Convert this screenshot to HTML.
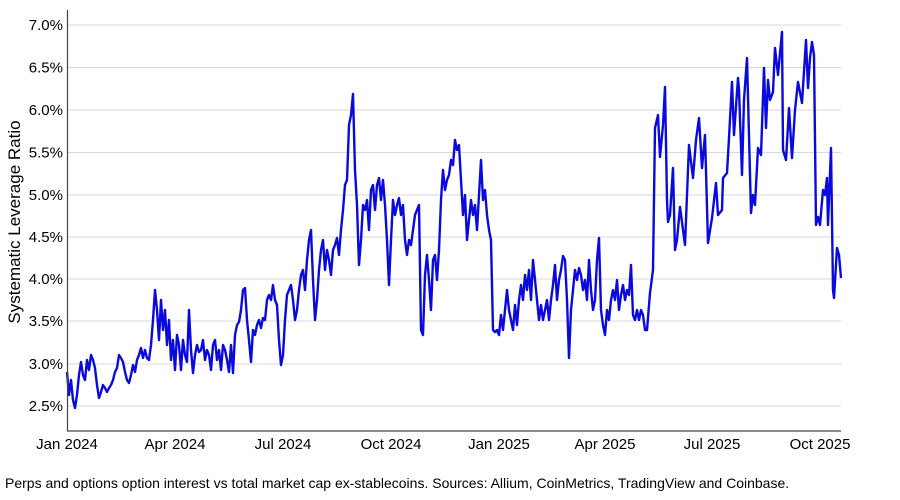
<!DOCTYPE html>
<html><head><meta charset="utf-8"><style>
html,body{margin:0;padding:0;background:#fff;}
svg{display:block;font-family:"Liberation Sans",Arial,sans-serif;}
</style></head><body>
<svg width="900" height="500" viewBox="0 0 900 500" xmlns="http://www.w3.org/2000/svg">
<g stroke="#dadada" stroke-width="1">
<line x1="68" x2="841" y1="25" y2="25"/><line x1="68" x2="841" y1="67.5" y2="67.5"/>
<line x1="68" x2="841" y1="110" y2="110"/><line x1="68" x2="841" y1="152.5" y2="152.5"/>
<line x1="68" x2="841" y1="195" y2="195"/><line x1="68" x2="841" y1="237" y2="237"/>
<line x1="68" x2="841" y1="279" y2="279"/><line x1="68" x2="841" y1="321" y2="321"/>
<line x1="68" x2="841" y1="364" y2="364"/><line x1="68" x2="841" y1="406" y2="406"/>
</g>
<g font-size="15" fill="#000" text-anchor="end">
<text x="63" y="30">7.0%</text><text x="63" y="72.5">6.5%</text><text x="63" y="115">6.0%</text>
<text x="63" y="157.5">5.5%</text><text x="63" y="200">5.0%</text><text x="63" y="242">4.5%</text>
<text x="63" y="284">4.0%</text><text x="63" y="326">3.5%</text><text x="63" y="369">3.0%</text>
<text x="63" y="411">2.5%</text>
</g>
<text transform="translate(20,222) rotate(-90)" font-size="17" text-anchor="middle">Systematic Leverage Ratio</text>
<g font-size="15" text-anchor="middle">
<text x="67" y="449">Jan 2024</text><text x="175" y="449">Apr 2024</text><text x="283" y="449">Jul 2024</text>
<text x="391" y="449">Oct 2024</text><text x="499" y="449">Jan 2025</text><text x="605" y="449">Apr 2025</text>
<text x="712" y="449">Jul 2025</text><text x="820" y="449">Oct 2025</text>
</g>
<text x="5" y="488" font-size="14">Perps and options option interest vs total market cap ex-stablecoins. Sources: Allium, CoinMetrics, TradingView and Coinbase.</text>
<polyline fill="none" stroke="#0a0adf" stroke-width="2.4" stroke-linejoin="round" points="67,372 69,395 71,380 73,400 75,408 77,395 79,375 81,362 83,375 85,380 87,360 89,370 91,355 93,360 95,368 97,385 99,398 101,392 103,385 105,388 107,392 109,388 111,385 113,380 115,372 117,368 119,355 121,358 123,362 125,372 127,380 129,383 131,375 133,365 135,372 137,360 139,355 141,348 143,358 145,350 147,358 149,360 151,345 153,320 155,290 157,310 159,340 161,300 163,330 165,310 167,345 169,320 171,360 173,340 175,370 177,335 179,345 181,370 183,340 185,355 187,362 189,310 191,350 193,373 195,355 197,345 199,352 201,350 203,340 205,360 207,350 209,355 211,370 213,345 215,340 217,360 219,350 221,370 223,345 225,350 227,360 229,372 231,345 233,373 235,335 237,325 239,322 241,310 243,290 245,288 247,320 249,340 251,362 253,330 255,335 257,325 259,320 261,328 263,318 265,320 267,300 269,295 271,300 273,285 275,300 277,305 279,340 281,365 283,355 285,320 287,295 289,290 291,285 293,300 295,320 297,310 299,290 301,275 303,270 305,290 307,260 309,240 311,230 313,280 315,320 317,300 319,270 321,250 323,240 325,270 327,250 329,260 331,275 333,250 335,245 337,238 339,255 341,230 343,210 345,185 347,180 349,125 351,115 353,94 355,170 357,205 359,265 361,240 363,205 365,210 367,200 369,230 371,190 373,185 375,210 377,185 379,178 381,200 383,180 385,205 387,240 389,285 391,240 393,200 395,215 397,205 399,198 401,215 403,205 405,240 407,255 409,240 411,245 413,230 415,215 417,210 419,205 421,330 423,335 425,275 427,255 429,280 431,310 433,260 435,255 437,280 439,250 441,200 443,170 445,190 447,180 449,175 451,160 453,165 455,140 457,150 459,145 461,180 463,215 465,195 467,240 469,220 471,200 473,215 475,205 477,230 479,195 481,160 483,200 485,190 487,215 489,230 491,240 493,330 495,332 497,330 499,335 501,315 503,330 505,310 507,290 509,310 511,320 513,330 515,305 517,325 519,300 521,285 523,300 525,275 527,290 529,270 531,300 533,260 535,280 537,300 539,320 541,305 543,320 545,310 547,300 549,320 551,300 553,285 555,265 557,300 559,280 561,270 563,256 565,260 567,300 569,358 571,310 573,290 575,270 577,280 579,268 581,275 583,290 585,280 587,300 589,260 591,290 593,310 595,300 597,260 599,238 601,310 603,325 605,335 607,310 609,320 611,300 613,290 615,300 617,280 619,310 621,295 623,285 625,300 627,290 629,295 631,265 633,315 635,320 637,310 639,320 641,310 643,315 645,330 647,330 650,293 653,270 655,128 658,115 660,157 663,125 665,87 667,200 668,222 670,215 673,168 675,250 677,240 680,207 685,245 689,145 693,178 696,140 699,118 702,168 705,135 708,243 712,218 716,183 718,215 722,210 723,178 727,173 729,138 732,82 734,135 738,78 739,90 742,175 744,100 747,58 751,213 753,195 755,205 758,148 761,155 764,68 766,128 768,80 770,100 773,92 775,48 778,75 782,32 783,150 786,160 789,108 792,158 795,110 798,82 802,103 806,40 808,88 810,58 812,42 814,55 816,225 818,217 820,225 823,190 825,195 827,178 828,225 831,148 833,290 834,298 837,248 839,255 841,278"/>
<polyline fill="none" stroke="#444" stroke-width="1.2" points="67.5,10 67.5,431 841,431"/>
</svg>
</body></html>
